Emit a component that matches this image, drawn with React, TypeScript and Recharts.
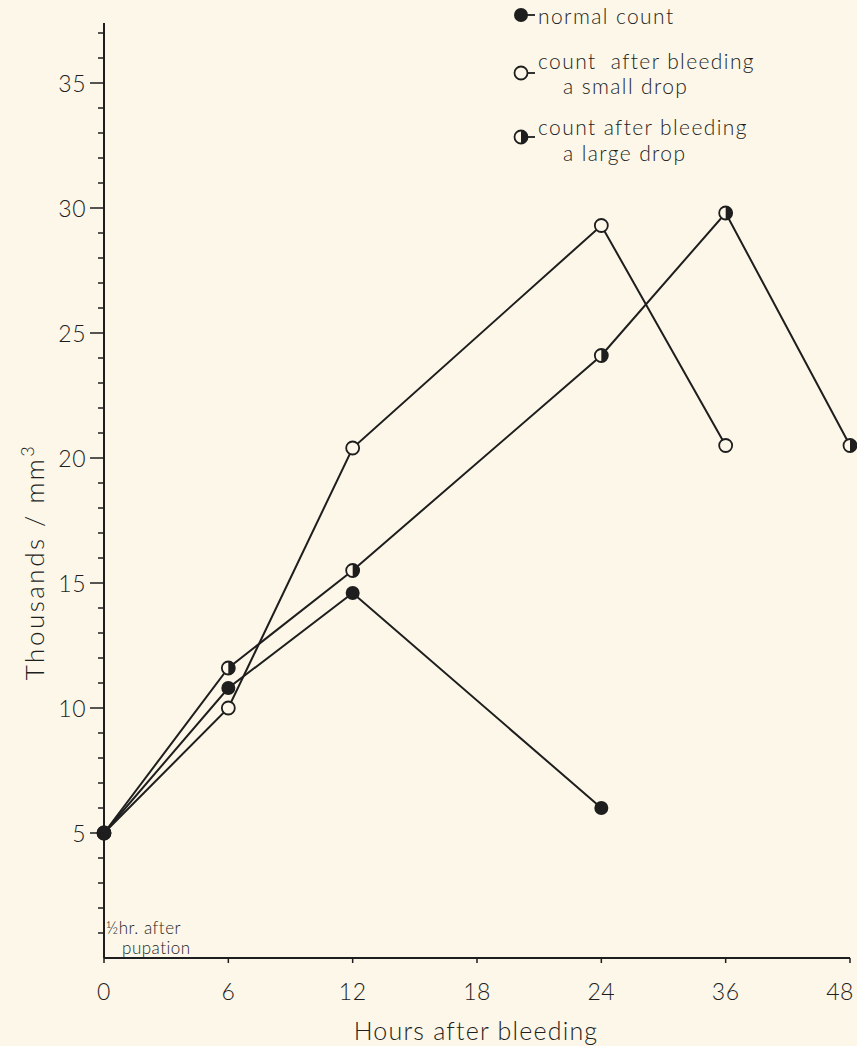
import { LineChart, Line, XAxis, YAxis, Legend } from "recharts"

const hourLabels = ["0", "6", "12", "18", "24", "36", "48"]

const normalHours = [0, 6, 12, 24]
const normalValues = [5, 10.8, 14.6, 6.0]

const smallHours = [0, 6, 12, 24, 36]
const smallValues = [5, 10.0, 20.4, 29.3, 20.5]

const largeHours = [0, 6, 12, 24, 36, 48]
const largeValues = [5, 11.6, 15.5, 24.1, 29.8, 20.5]

const yTicks = Array.from({ length: 37 }, (_, i) => i + 1)

const BG = "#fcf7e8"
const INK = "#1e1e1e"
const FONT = "Lato, 'Noto Sans', sans-serif"

const toRows = (hours: number[], values: number[]) =>
  hours.map((h, i) => ({ pos: hourLabels.indexOf(String(h)), value: values[i] }))

const normalData = toRows(normalHours, normalValues)
const smallData = toRows(smallHours, smallValues)
const largeData = toRows(largeHours, largeValues)

const FilledDot = ({ cx, cy }: any) => <circle cx={cx} cy={cy} r={7} fill={INK} />
const OpenDot = ({ cx, cy }: any) => (
  <circle cx={cx} cy={cy} r={6.5} fill={BG} stroke={INK} strokeWidth={1.8} />
)
const HalfDot = ({ cx, cy }: any) => (
  <g>
    <circle cx={cx} cy={cy} r={6.5} fill={BG} stroke={INK} strokeWidth={1.8} />
    <path d={`M${cx},${cy - 6.5} A6.5,6.5 0 0 1 ${cx},${cy + 6.5} Z`} fill={INK} />
  </g>
)

const YTick = ({ x, y, payload }: any) => {
  const major = payload.value % 5 === 0
  return (
    <g>
      <line x1={x - (major ? 14 : 6)} x2={x} y1={y} y2={y} stroke={INK} strokeWidth={1.5} />
      {major && (
        <text x={x - 18} y={y} textAnchor="end" dominantBaseline="central" fontSize={23} fill={INK} fontFamily={FONT} fontWeight={300} letterSpacing={0.5}>
          {payload.value}
        </text>
      )}
    </g>
  )
}

const XTick = ({ x, y, payload }: any) => {
  const last = payload.value === hourLabels.length - 1
  return (
    <g>
      <line x1={x} x2={x} y1={y} y2={y + 5} stroke={INK} strokeWidth={1.5} />
      <text x={last ? x - 10 : x} y={y + 33} textAnchor="middle" dominantBaseline="central" fontSize={23} fill={INK} fontFamily={FONT} fontWeight={300} letterSpacing={0.5}>
        {hourLabels[payload.value]}
      </text>
    </g>
  )
}

const legendItems = [
  { lines: ["normal count"], dot: FilledDot, dotY: 15, textY: [15] },
  { lines: ["count  after bleeding", "a small drop"], dot: OpenDot, dotY: 73, textY: [60, 85] },
  { lines: ["count after bleeding", "a large drop"], dot: HalfDot, dotY: 137, textY: [126, 152] },
]

const renderLegend = () => (
  <svg width={357} height={170} style={{ position: "absolute", left: 500, top: 0 }}>
    {legendItems.map((item, i) => {
      const D = item.dot
      return (
        <g key={i}>
          <line x1={21} x2={35} y1={item.dotY} y2={item.dotY} stroke={INK} strokeWidth={1.8} />
          <D cx={21} cy={item.dotY} />
          {item.lines.map((t, j) => (
            <text key={j} x={j === 0 ? 38 : 63} y={item.textY[j]} dominantBaseline="central" fontSize={21} fill={INK} fontFamily={FONT} fontWeight={300} letterSpacing={1.4} style={{ whiteSpace: "pre" }}>
              {t}
            </text>
          ))}
        </g>
      )
    })}
  </svg>
)

const App = () => {
  return (
    <div style={{ position: "fixed", left: 0, top: 0, width: 857, height: 1046, background: BG, fontFamily: FONT, color: INK, overflow: "hidden" }}>
      <LineChart width={857} height={1046} margin={{ top: 23, right: 7, bottom: 48, left: 44 }}>
        <XAxis
          type="number"
          dataKey="pos"
          domain={[0, 6]}
          ticks={[0, 1, 2, 3, 4, 5, 6]}
          interval={0}
          height={40}
          tickSize={0}
          tickMargin={0}
          tickLine={false}
          tick={<XTick />}
          axisLine={{ stroke: INK, strokeWidth: 2 }}
          allowDuplicatedCategory={false}
        />
        <YAxis
          type="number"
          domain={[0, 37.4]}
          ticks={yTicks}
          interval={0}
          width={60}
          tickSize={0}
          tickMargin={0}
          tickLine={false}
          tick={<YTick />}
          axisLine={{ stroke: INK, strokeWidth: 2 }}
          allowDataOverflow
        />
        <Legend content={renderLegend} wrapperStyle={{ position: "absolute", left: 0, top: 0, width: 857, height: 0 }} />
        <Line data={smallData} dataKey="value" name="count after bleeding a small drop" stroke={INK} strokeWidth={2} dot={<OpenDot />} activeDot={false} isAnimationActive={false} />
        <Line data={largeData} dataKey="value" name="count after bleeding a large drop" stroke={INK} strokeWidth={2} dot={<HalfDot />} activeDot={false} isAnimationActive={false} />
        <Line data={normalData} dataKey="value" name="normal count" stroke={INK} strokeWidth={2} dot={<FilledDot />} activeDot={false} isAnimationActive={false} />
      </LineChart>
      <div style={{ position: "absolute", left: 33, top: 562, transform: "translate(-50%, -50%) rotate(-90deg)", whiteSpace: "nowrap", fontSize: 26, fontWeight: 300, letterSpacing: 2.5 }}>
        Thousands / mm<sup style={{ fontSize: 18 }}>3</sup>
      </div>
      <div style={{ position: "absolute", left: 476, top: 1030, transform: "translate(-50%, -50%)", whiteSpace: "nowrap", fontSize: 25, fontWeight: 300, letterSpacing: 1.2 }}>
        Hours after bleeding
      </div>
      <div style={{ position: "absolute", left: 106, top: 919, fontSize: 17, lineHeight: "17px", fontWeight: 300, letterSpacing: 0.5, whiteSpace: "nowrap" }}>
        ½hr. after
      </div>
      <div style={{ position: "absolute", left: 122, top: 939, fontSize: 17, lineHeight: "17px", fontWeight: 300, letterSpacing: 0.5, whiteSpace: "nowrap" }}>
        pupation
      </div>
    </div>
  )
}

export default App
